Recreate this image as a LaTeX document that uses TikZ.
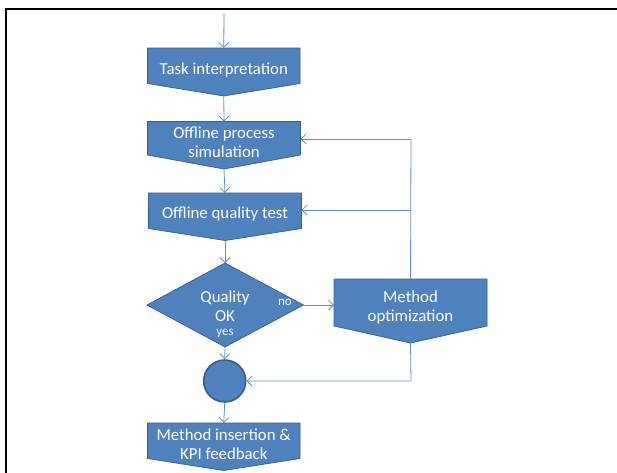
\documentclass[tikz,border=0pt]{standalone}
\usepackage{fontspec}
\setmainfont{Carlito}
\usetikzlibrary{arrows.meta}
\definecolor{boxfill}{HTML}{4F81BD}
\definecolor{boxline}{HTML}{385D8A}
\definecolor{connline}{HTML}{5F8FCA}
\tikzset{
  boxshape/.style={fill=boxfill, draw=boxline, line width=0.7pt, line join=miter},
  boxtext/.style={text=white, align=center, inner sep=0pt, font=\fontsize{16.8}{19}\selectfont},
  smalltext/.style={text=white, inner sep=0pt, font=\fontsize{13}{14}\selectfont},
  conn/.style={draw=connline, line width=0.8pt, -{Straight Barb[length=5pt,width=10pt]}},
  plainconn/.style={draw=connline, line width=0.8pt},
  frameline/.style={draw=black, line width=2.2pt},
}
% off-page style box: name, left x, right x, top y, side y, point y, text y, text
\newcommand{\offpagebox}[8]{%
  \path[boxshape] (#2,#4) -- (#3,#4) -- (#3,#5) -- ({(#2+#3)/2},#6) -- (#2,#5) -- cycle;
  \coordinate (#1-n) at ({(#2+#3)/2},#4);
  \coordinate (#1-s) at ({(#2+#3)/2},#6);
  \coordinate (#1-w) at (#2,{(#4+#5)/2});
  \node[boxtext] (#1) at ({(#2+#3)/2},#7) {#8};
}
\begin{document}
\begin{tikzpicture}[x=1pt,y=-1pt]
\useasboundingbox (0,0) rectangle (617,472);
% frame
\draw[frameline] (6.3,473) -- (6.3,9) -- (618,9);

% process boxes
\offpagebox{task}{147.5}{300}{48}{83.5}{96}{70}{Task interpretation}
\offpagebox{sim}{147.5}{300.5}{121.5}{155}{169}{142.5}{Offline process\\simulation}
\offpagebox{qual}{148.5}{301.5}{193}{228.5}{240.5}{214}{Offline quality test}
\offpagebox{opt}{334}{487}{279}{326}{343}{307.5}{Method\\optimization}
\offpagebox{ins}{147.5}{300}{423}{458.5}{470.5}{444}{Method insertion \&\\KPI feedback}

% entry points on the right sides of the simulation and test boxes
\coordinate (sim-e) at (300.5,139);
\coordinate (qual-e) at (301.5,210);

% decision
\path[boxshape] (147,305) -- (225,263) -- (303.5,305) -- (225,347) -- cycle;
\coordinate (dia-n) at (225,263);
\coordinate (dia-s) at (225,347);
\coordinate (dia-e) at (303.5,305);
\node[boxtext] (dia) at (225,306) {Quality\\OK};
\node[smalltext] (nolbl) at (285,302.5) {no};
\node[smalltext] (yeslbl) at (225,333) {yes};

% merge point
\node[circle, fill=boxfill, draw=boxline, line width=1.6pt, minimum size=42pt, inner sep=0pt] (merge) at (224.7,381) {};

% loop corners
\coordinate (start) at (224,13);
\coordinate (looptop) at (411,139);
\coordinate (loopmid) at (411,210);
\coordinate (loopbot) at (411,381);

% connectors
\draw[conn] (start) -- (task-n);
\draw[conn] (task-s) -- (sim-n);
\draw[conn] (sim-s) -- (qual-n);
\draw[conn] (qual-s) -- (dia-n);
\draw[conn] (dia-e) -- (opt-w |- dia-e);
\draw[plainconn] (opt-n) -- (looptop);
\draw[conn] (looptop) -- (sim-e);
\draw[conn] (loopmid) -- (qual-e);
\draw[conn] (opt-s) -- (loopbot) -- (merge.east);
\draw[conn] (dia-s) -- (merge.north);
\draw[conn] (merge.south) -- (ins-n);
\end{tikzpicture}
\end{document}
